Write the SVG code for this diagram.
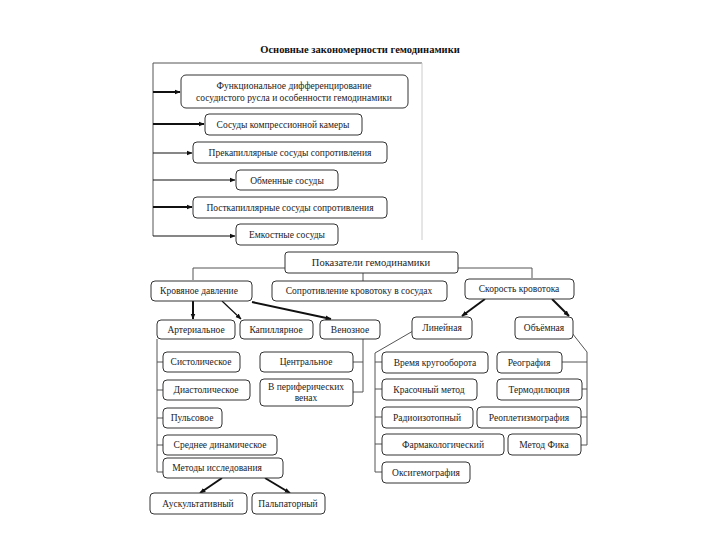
<svg xmlns="http://www.w3.org/2000/svg" width="720" height="540" viewBox="0 0 720 540">
<defs>
<marker id="ah" viewBox="0 0 10 10" refX="9" refY="5" markerWidth="6" markerHeight="6" orient="auto" markerUnits="userSpaceOnUse">
<path d="M0,1 L10,5 L0,9 z" fill="#111"/>
</marker>
</defs>
<style>
.b{fill:#fff;stroke:#333;stroke-width:1}
.t{font-family:"Liberation Serif","Times New Roman",serif;font-size:9.5px;fill:#222;text-anchor:middle}
.c{fill:none;stroke:#555;stroke-width:1}
.a{fill:none;stroke:#111;stroke-width:1.2;marker-end:url(#ah)}
.ak{fill:none;stroke:#111;stroke-width:2;marker-end:url(#ah)}
.title{font-family:"Liberation Serif","Times New Roman",serif;font-size:10.5px;font-weight:bold;fill:#111;text-anchor:middle}
</style>
<rect width="720" height="540" fill="#fff"/>
<text class="title" x="360" y="53">Основные закономерности гемодинамики</text>

<g id="connectors">
<path class="c" d="M153,63 V236 M153,63 H422"/>
<path d="M422,63 V240" stroke="#ccc" fill="none"/>
<path class="ak" d="M153,92 H180"/>
<path class="ak" d="M153,124 H204"/>
<path class="a" d="M153,153 H192"/>
<path class="a" d="M153,180 H235"/>
<path class="ak" d="M153,207 H192"/>
<path class="a" d="M153,236 H235"/>
<path class="c" d="M285,268 H193 V280 M458,268 H532 V278 M363,273 V281"/>
<path class="ak" d="M193,300 V319"/>
<path class="a" d="M222,301 L241,319"/>
<path class="ak" d="M252,302 L331,319"/>
<path class="ak" d="M485,299 L462,316"/>
<path class="ak" d="M552,299 L569,316"/>
<path class="c" d="M157,339 V472 H163 M157,362 H163 M157,390 H163 M157,418 H163 M157,445 H163"/>
<path class="c" d="M363,339 V392 H353 M363,362 H353"/>
<path class="ak" d="M222,478 L200,493"/>
<path class="ak" d="M265,478 L290,493"/>
<path class="c" d="M413,331 L375,353 V472 H382 M375,362 H382 M375,389 H382 M375,417 H382 M375,444 H382"/>
<path class="c" d="M572,333 L587,352 V445 H581 M587,362 H562 M587,389 H582 M587,417 H581"/>
</g>

<g id="n1"><rect class="b" x="181" y="75" width="227" height="33" rx="5"/><text class="t" x="294" y="89">Функциональное дифференцирование</text><text class="t" x="294" y="101">сосудистого русла и особенности гемодинамики</text></g>
<g id="n2"><rect class="b" x="205" y="114" width="157" height="21" rx="4"/><text class="t" x="283" y="128">Сосуды компрессионной камеры</text></g>
<g id="n3"><rect class="b" x="193" y="142" width="194" height="21" rx="4"/><text class="t" x="290" y="156">Прекапиллярные сосуды сопротивления</text></g>
<g id="n4"><rect class="b" x="236" y="170" width="102" height="20" rx="4"/><text class="t" x="287" y="184">Обменные сосуды</text></g>
<g id="n5"><rect class="b" x="193" y="197" width="194" height="21" rx="4"/><text class="t" x="290" y="211">Посткапиллярные сосуды сопротивления</text></g>
<g id="n6"><rect class="b" x="236" y="224" width="102" height="21" rx="4"/><text class="t" x="287" y="238">Емкостные сосуды</text></g>

<g id="n7"><rect class="b" x="285" y="252" width="173" height="21" rx="3"/><text class="t" x="371" y="266" style="font-size:10.5px">Показатели   гемодинамики</text></g>
<g id="n8"><rect class="b" x="151" y="281" width="101" height="20" rx="4"/><text class="t" x="199" y="294">Кровяное давление</text></g>
<g id="n9"><rect class="b" x="272" y="281" width="175" height="20" rx="4"/><text class="t" x="359" y="294">Сопротивление кровотоку в сосудах</text></g>
<g id="n10"><rect class="b" x="465" y="279" width="109" height="20" rx="4"/><text class="t" x="519" y="292">Скорость кровотока</text></g>

<g id="n11"><rect class="b" x="157" y="320" width="78" height="19" rx="4"/><text class="t" x="196" y="333">Артериальное</text></g>
<g id="n12"><rect class="b" x="240" y="320" width="73" height="19" rx="4"/><text class="t" x="276" y="333">Капиллярное</text></g>
<g id="n13"><rect class="b" x="320" y="320" width="60" height="19" rx="4"/><text class="t" x="350" y="333">Венозное</text></g>
<g id="n14"><rect class="b" x="412" y="317" width="60" height="22" rx="4"/><text class="t" x="442" y="331">Линейная</text></g>
<g id="n15"><rect class="b" x="515" y="317" width="58" height="22" rx="4"/><text class="t" x="544" y="331">Объёмная</text></g>

<g id="n16"><rect class="b" x="163" y="352" width="77" height="20" rx="4"/><text class="t" x="201" y="365">Систолическое</text></g>
<g id="n17"><rect class="b" x="163" y="380" width="87" height="20" rx="4"/><text class="t" x="206" y="393">Диастолическое</text></g>
<g id="n18"><rect class="b" x="163" y="408" width="59" height="20" rx="4"/><text class="t" x="192" y="421">Пульсовое</text></g>
<g id="n19"><rect class="b" x="163" y="435" width="114" height="20" rx="4"/><text class="t" x="220" y="448">Среднее динамическое</text></g>
<g id="n20"><rect class="b" x="163" y="458" width="120" height="20" rx="4"/><text class="t" x="217" y="471">Методы исследования</text></g>
<g id="n21"><rect class="b" x="260" y="352" width="93" height="20" rx="4"/><text class="t" x="306" y="365">Центральное</text></g>
<g id="n22"><rect class="b" x="260" y="379" width="93" height="27" rx="4"/><text class="t" x="306" y="390">В периферических</text><text class="t" x="306" y="401">венах</text></g>
<g id="n23"><rect class="b" x="150" y="493" width="97" height="21" rx="4"/><text class="t" x="198" y="507">Аускультативный</text></g>
<g id="n24"><rect class="b" x="252" y="493" width="73" height="21" rx="4"/><text class="t" x="288" y="507">Пальпаторный</text></g>

<g id="n25"><rect class="b" x="382" y="352" width="106" height="21" rx="4"/><text class="t" x="435" y="366">Время кругооборота</text></g>
<g id="n26"><rect class="b" x="382" y="379" width="95" height="21" rx="4"/><text class="t" x="429" y="393">Красочный метод</text></g>
<g id="n27"><rect class="b" x="382" y="407" width="91" height="21" rx="4"/><text class="t" x="427" y="421">Радиоизотопный</text></g>
<g id="n28"><rect class="b" x="382" y="434" width="122" height="21" rx="4"/><text class="t" x="443" y="448">Фармакологический</text></g>
<g id="n29"><rect class="b" x="382" y="462" width="88" height="21" rx="4"/><text class="t" x="426" y="476">Оксигемография</text></g>
<g id="n30"><rect class="b" x="497" y="352" width="65" height="21" rx="4"/><text class="t" x="529" y="366">Реография</text></g>
<g id="n31"><rect class="b" x="497" y="379" width="85" height="21" rx="4"/><text class="t" x="539" y="393">Термодилюция</text></g>
<g id="n32"><rect class="b" x="477" y="407" width="104" height="21" rx="4"/><text class="t" x="529" y="421">Реоплетизмография</text></g>
<g id="n33"><rect class="b" x="508" y="434" width="73" height="21" rx="4"/><text class="t" x="544" y="448">Метод Фика</text></g>
</svg>
